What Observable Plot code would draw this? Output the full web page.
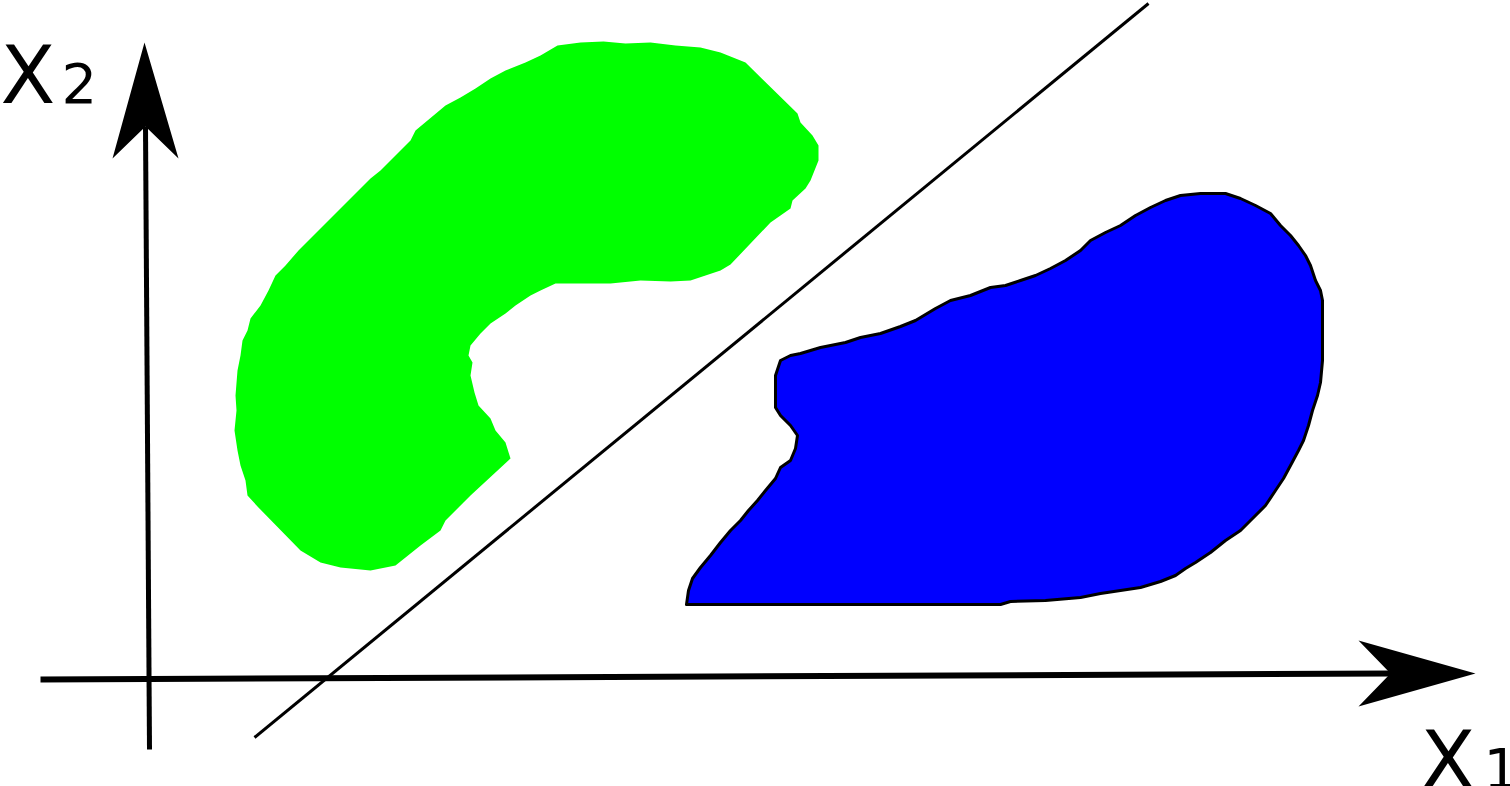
<!DOCTYPE html>
<html>
<head>
<meta charset="utf-8">
<script src="https://cdn.jsdelivr.net/npm/d3@7"></script>
<script src="https://cdn.jsdelivr.net/npm/@observablehq/plot@0.6"></script>
<style>
  html, body { margin: 0; padding: 0; background: #fff; }
  #chart svg { display: block; }
</style>
</head>
<body>
<div id="chart"></div>
<script>
// Coordinates (x to the right, y downward, picture units)
const greenX = [557,580,603,625,650,675,700,720,745,797,800,812,818,818,814,810,805,792,790,780,770,730,720,705,690,670,640,610,580,555,540,530,515,505,490,480,470,468,472,470,474,478,490,495,505,510,470,445,440,420,405,395,370,340,320,300,257,247,245,240,237,234,236,235,237,240,242,247,250,260,268,275,285,298,370,380,410,415,445,460,475,490,505,525,540];
const greenY = [45,42,41,43,42,45,47,52,62,113,122,135,145,160,170,180,188,200,208,215,222,264,270,275,280,281,280,283,283,283,290,295,305,313,323,333,345,355,362,375,392,405,418,430,442,458,495,520,530,545,557,565,570,567,562,550,506,495,480,465,450,430,410,395,370,355,340,330,318,305,290,275,265,250,178,170,140,130,105,97,88,78,70,62,55];

const blueX = [686,1000,1010,1045,1080,1100,1120,1140,1160,1175,1185,1195,1210,1225,1240,1250,1265,1275,1283,1290,1298,1303,1308,1312,1317,1320,1322,1322,1320,1315,1310,1305,1298,1290,1280,1270,1255,1240,1225,1200,1180,1165,1150,1135,1120,1105,1090,1080,1065,1050,1035,1020,1005,990,970,950,935,915,900,880,860,845,820,800,790,780,775,775,780,790,797,795,790,780,775,765,757,748,740,730,720,710,700,692,688];
const blueY = [604,604,601,600,597,593,590,587,581,575,568,562,552,540,530,520,505,490,478,465,450,440,425,410,395,382,360,300,290,280,265,255,245,235,225,213,205,198,193,193,195,200,207,215,225,232,240,250,260,268,275,280,285,287,295,300,308,320,326,333,337,342,347,353,355,360,375,407,415,425,435,448,460,467,478,490,500,510,520,530,542,555,567,578,590];

// Separating line
const sepX = [254, 1148];
const sepY = [737, 3];

// Axes (start -> notch of arrow) and arrowheads (tip, wing, notch, wing)
const axisX1 = [40, 149];
const axisY1 = [679, 749];
const axisX2 = [1392, 145];
const axisY2 = [673, 126];
const headX1X = [1475, 1358, 1390, 1358];
const headX1Y = [673, 640, 673, 706];
const headX2X = [144, 112, 145, 178];
const headX2Y = [42, 158, 126, 158];

// Axis labels
const labelText = ["X", "2", "X", "1"];
const labelX = [0, 61, 1420, 1483];
const labelY = [77, 85, 762, 770];
const labelSize = [80, 56, 80, 56];

const green = greenX.map((x, i) => ({x, y: greenY[i]}));
const blue = blueX.map((x, i) => ({x, y: blueY[i]}));
const axes = axisX1.map((x, i) => ({x1: x, y1: axisY1[i], x2: axisX2[i], y2: axisY2[i], w: i === 0 ? 6 : 5}));
const head1 = headX1X.map((x, i) => ({x, y: headX1Y[i]}));
const head2 = headX2X.map((x, i) => ({x, y: headX2Y[i]}));
const labels = labelText.map((t, i) => ({t, x: labelX[i], y: labelY[i], s: labelSize[i]}));

const fontFam = "DejaVu Sans, sans-serif";

const plot = Plot.plot({
  width: 1510,
  height: 786,
  margin: 0,
  x: {domain: [0, 1510], axis: null},
  y: {domain: [0, 786], reverse: true, axis: null},
  style: {background: "#fff", fontFamily: fontFam},
  marks: [
    Plot.line(green, {x: "x", y: "y", curve: "linear-closed", fill: "#00ff00", stroke: "none"}),
    Plot.line(blue, {x: "x", y: "y", curve: "linear-closed", fill: "#0000ff", stroke: "#000", strokeWidth: 3, strokeLinejoin: "round"}),
    Plot.link([0], {x1: () => sepX[0], y1: () => sepY[0], x2: () => sepX[1], y2: () => sepY[1], stroke: "#000", strokeWidth: 3}),
    Plot.link(axes.slice(0, 1), {x1: "x1", y1: "y1", x2: "x2", y2: "y2", stroke: "#000", strokeWidth: 6}),
    Plot.link(axes.slice(1, 2), {x1: "x1", y1: "y1", x2: "x2", y2: "y2", stroke: "#000", strokeWidth: 5}),
    Plot.line(head1, {x: "x", y: "y", curve: "linear-closed", fill: "#000", stroke: "none"}),
    Plot.line(head2, {x: "x", y: "y", curve: "linear-closed", fill: "#000", stroke: "none"}),
    ...labels.map(d => Plot.text([d], {x: "x", y: "y", text: "t", fontSize: d.s, textAnchor: "start", fill: "#000", fontFamily: fontFam}))
  ]
});
document.getElementById("chart").append(plot);
</script>
</body>
</html>
